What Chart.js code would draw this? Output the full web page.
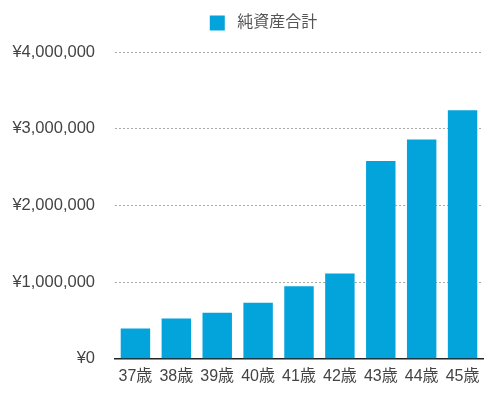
<!DOCTYPE html>
<html>
<head>
<meta charset="utf-8">
<script src="https://cdn.jsdelivr.net/npm/chart.js@4"></script>
<style>
  html, body { margin: 0; padding: 0; background: #fff; }
  #wrap { width: 500px; height: 395px; }
</style>
</head>
<body>
<div id="wrap"><canvas id="netWorthChart" width="500" height="395"></canvas></div>
<script>
const ages = ['37歳', '38歳', '39歳', '40歳', '41歳', '42歳', '43歳', '44歳', '45歳'];
const netWorth = [395000, 526000, 600000, 730000, 947000, 1113000, 2580000, 2860000, 3240000];
const seriesLabel = '純資産合計';

const fontFamily = '"Liberation Sans", "Noto Sans CJK JP", sans-serif';

// legend: more space below it, and centred a bit to the right like the original
const legendTweak = {
  id: 'legendTweak',
  beforeInit(chart) {
    const fit = chart.legend.fit;
    chart.legend.fit = function () {
      fit.bind(this)();
      this.height += 11;
    };
  },
  afterLayout(chart) {
    chart.legend.left += 22;
    chart.legend.right += 22;
  }
};

const ctx = document.getElementById('netWorthChart').getContext('2d');
new Chart(ctx, {
  type: 'bar',
  data: {
    labels: ages,
    datasets: [{
      label: seriesLabel,
      data: netWorth,
      backgroundColor: '#03a3db',
      borderWidth: 0
    }]
  },
  plugins: [legendTweak],
  options: {
    responsive: false,
    animation: false,
    devicePixelRatio: 1,
    layout: { padding: { left: 0, right: 17, top: 3, bottom: 1 } },
    plugins: {
      tooltip: { enabled: false },
      legend: {
        position: 'top',
        labels: {
          boxWidth: 15,
          boxHeight: 15,
          padding: 12,
          color: '#555',
          font: { family: fontFamily, size: 16 },
          generateLabels: chart => Chart.defaults.plugins.legend.labels.generateLabels(chart)
            .map(item => Object.assign(item, { text: ' ' + item.text }))
        }
      }
    },
    scales: {
      x: {
        grid: { display: false, drawTicks: false },
        border: { display: true, color: '#222', width: 1.5 },
        ticks: { color: '#444', padding: 8, font: { family: fontFamily, size: 16 } }
      },
      y: {
        min: 0,
        max: 4000000,
        afterFit: scale => { scale.width = 115; },
        grid: {
          drawTicks: false,
          color: c => c.tick && c.tick.value === 0 ? 'rgba(0,0,0,0)' : '#aaa',
          lineWidth: 1
        },
        border: { display: false, dash: [2, 2] },
        ticks: {
          stepSize: 1000000,
          padding: 20,
          color: '#444',
          font: { family: fontFamily, size: 16.5 },
          callback: v => '¥' + Number(v).toLocaleString('en-US')
        }
      }
    }
  }
});
</script>
</body>
</html>
